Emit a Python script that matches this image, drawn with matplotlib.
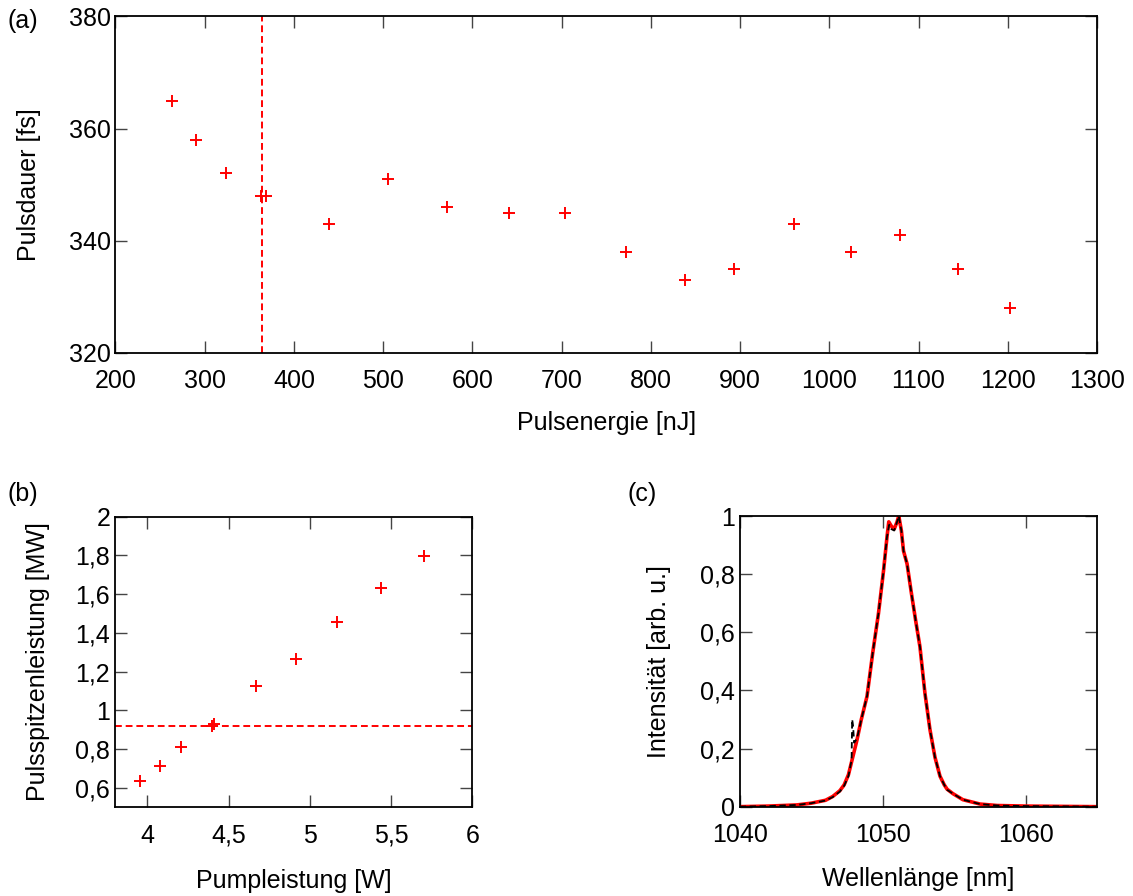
import matplotlib
matplotlib.use('Agg')
import matplotlib.pyplot as plt
from matplotlib.ticker import FuncFormatter

plt.rcParams['font.family'] = ['Liberation Sans', 'DejaVu Sans']
plt.rcParams['font.size'] = 18

# (a) pulse duration vs pulse energy
energie = [263, 290, 323.5, 362.7, 368.7, 439, 505.5, 571.5, 641, 704, 772, 838.5,
           893, 960, 1024, 1079.5, 1144, 1203]
dauer = [365, 358, 352, 348, 348, 343, 351, 346, 345, 345, 338, 333,
         335, 343, 338, 341, 335, 328]
energie_marke = 364

# (b) peak power vs pump power
pump = [3.954, 4.077, 4.207, 4.398, 4.412, 4.667, 4.913, 5.164, 5.435, 5.704]
spitze = [0.634, 0.713, 0.808, 0.921, 0.931, 1.125, 1.266, 1.454, 1.634, 1.797]
spitze_marke = 0.919

# (c) spectrum, measured (red) and second trace (black dashed)
wl_mess = [1040, 1042, 1044, 1045, 1046, 1046.5, 1047, 1047.3, 1047.6, 1047.9,
           1048.2, 1048.5, 1048.9, 1049.3, 1049.7, 1050.05, 1050.3, 1050.42, 1050.6,
           1050.8, 1051.0, 1051.12, 1051.3, 1051.45, 1051.7, 1052.0, 1052.3, 1052.6,
           1052.95, 1053.3, 1053.65, 1054.0, 1054.3, 1054.5, 1054.9, 1055.6, 1056.8,
           1058, 1060, 1065]
int_mess = [0, 0.002, 0.006, 0.012, 0.022, 0.035, 0.055, 0.075, 0.11, 0.17,
            0.23, 0.30, 0.38, 0.53, 0.665, 0.81, 0.93, 0.98, 0.965,
            0.955, 0.98, 1.0, 0.95, 0.88, 0.835, 0.735, 0.64, 0.55,
            0.39, 0.265, 0.17, 0.105, 0.075, 0.06, 0.045, 0.024, 0.009,
            0.004, 0.002, 0.0]
wl_ref = [1040, 1042, 1044, 1045, 1046, 1046.5, 1047, 1047.3, 1047.6, 1047.82,
          1047.86, 1047.92, 1048.0, 1048.2, 1048.5, 1048.9, 1049.3, 1049.7, 1050.05,
          1050.3, 1050.45, 1050.6, 1050.8, 1051.0, 1051.12, 1051.3, 1051.45, 1051.7,
          1052.0, 1052.3, 1052.6, 1052.95, 1053.3, 1053.65, 1054.0, 1054.3, 1054.5,
          1054.9, 1055.6, 1056.8, 1058, 1060, 1065]
int_ref = [0, 0.002, 0.006, 0.012, 0.021, 0.033, 0.052, 0.072, 0.105, 0.16,
           0.3, 0.28, 0.22, 0.235, 0.30, 0.38, 0.53, 0.665, 0.81,
           0.93, 0.97, 0.955, 0.95, 0.98, 1.0, 0.95, 0.88, 0.835,
           0.735, 0.64, 0.55, 0.39, 0.265, 0.17, 0.105, 0.075, 0.058,
           0.045, 0.024, 0.009, 0.004, 0.002, 0.0]


def komma(v, pos):
    s = ('%g' % v).replace('.', ',')
    return s


def gp_style(ax):
    ax.tick_params(direction='in', length=8.5, width=1, color='#444444',
                   top=True, right=True)
    ax.tick_params(axis='x', pad=12)
    ax.tick_params(axis='y', pad=3.5)
    for s in ax.spines.values():
        s.set_linewidth(1.3)


fig = plt.figure(figsize=(11.33, 8.96), dpi=100)

ax1 = fig.add_axes([0.1019, 0.6064, 0.8663, 0.3752])
ax1.plot(energie, dauer, '+', color='red', markersize=9, mew=1.4)
ax1.axvline(energie_marke, color='red', lw=1.4, dashes=(3.5, 2))
ax1.set_xlim(200, 1300)
ax1.set_ylim(320, 380)
ax1.set_xticks(range(200, 1301, 100))
ax1.set_yticks([320, 340, 360, 380])
ax1.set_xlabel('Pulsenergie [nJ]', labelpad=13)
ax1.set_ylabel('Pulsdauer [fs]', labelpad=20)
gp_style(ax1)

ax2 = fig.add_axes([0.1015, 0.0993, 0.3154, 0.324])
ax2.plot(pump, spitze, '+', color='red', markersize=9, mew=1.4)
ax2.axhline(spitze_marke, color='red', lw=1.4, dashes=(3.5, 2))
ax2.set_xlim(3.8, 6)
ax2.set_ylim(0.5, 2)
ax2.set_xticks([4, 4.5, 5, 5.5, 6])
ax2.set_yticks([0.6, 0.8, 1, 1.2, 1.4, 1.6, 1.8, 2])
ax2.xaxis.set_major_formatter(FuncFormatter(komma))
ax2.yaxis.set_major_formatter(FuncFormatter(komma))
ax2.set_xlabel('Pumpleistung [W]', labelpad=15)
ax2.set_ylabel('Pulsspitzenleistung [MW]', labelpad=18)
gp_style(ax2)

ax3 = fig.add_axes([0.6529, 0.0997, 0.3156, 0.3244])
ax3.plot(wl_mess, int_mess, '-', color='red', lw=2.6)
ax3.plot(wl_ref, int_ref, color='black', lw=1.3, dashes=(3.5, 2))
ax3.set_xlim(1040, 1065)
ax3.set_ylim(0, 1)
ax3.set_xticks([1040, 1050, 1060])
ax3.set_yticks([0, 0.2, 0.4, 0.6, 0.8, 1])
ax3.yaxis.set_major_formatter(FuncFormatter(komma))
ax3.set_xlabel('Wellenlänge [nm]', labelpad=14)
ax3.set_ylabel('Intensität [arb. u.]', labelpad=21)
gp_style(ax3)

fig.text(0.007, 0.977, '(a)', ha='left', va='center')
fig.text(0.007, 0.449, '(b)', ha='left', va='center')
fig.text(0.554, 0.449, '(c)', ha='left', va='center')

fig.savefig('out.png', dpi=100)
